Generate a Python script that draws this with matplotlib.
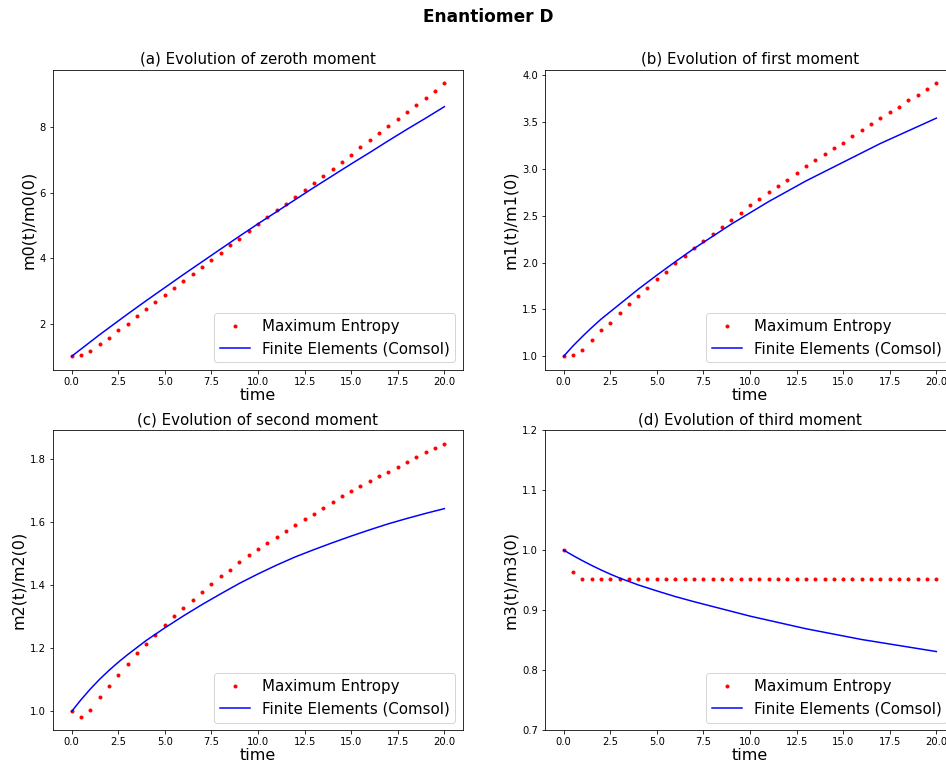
import matplotlib
matplotlib.use("Agg")
import matplotlib.pyplot as plt
import numpy as np

# temps des points "Maximum Entropy" (pas de 0.5) et de la courbe Comsol
t_me = np.arange(0, 20.5, 0.5)
t_fe = [0, 0.5, 1, 1.5, 2, 2.5, 3, 4, 5, 6, 7, 8, 9, 10,
        11, 12, 13, 14, 15, 16, 17, 18, 19, 20]

m0_me = [1.00, 1.05, 1.17, 1.37, 1.57, 1.79, 2.00, 2.22, 2.44, 2.65,
         2.87, 3.08, 3.31, 3.52, 3.73, 3.95, 4.17, 4.39, 4.60, 4.82,
         5.04, 5.26, 5.47, 5.65, 5.87, 6.08, 6.30, 6.52, 6.73, 6.95,
         7.16, 7.39, 7.60, 7.82, 8.03, 8.24, 8.47, 8.68, 8.90, 9.11, 9.34]
m0_fe = [1.00, 1.22, 1.44, 1.66, 1.87, 2.08, 2.29, 2.70, 3.10, 3.50, 3.89, 4.28, 4.67, 5.05,
         5.42, 5.79, 6.16, 6.52, 6.88, 7.23, 7.59, 7.94, 8.28, 8.63]

m1_me = [1.00, 1.01, 1.07, 1.17, 1.28, 1.36, 1.46, 1.56, 1.645, 1.73,
         1.82, 1.90, 1.99, 2.065, 2.15, 2.23, 2.30, 2.38, 2.45, 2.53,
         2.61, 2.68, 2.75, 2.82, 2.885, 2.95, 3.03, 3.09, 3.155, 3.22,
         3.28, 3.35, 3.415, 3.48, 3.54, 3.61, 3.66, 3.73, 3.79, 3.85, 3.91]
m1_fe = [1.00, 1.11, 1.21, 1.305, 1.395, 1.475, 1.555, 1.715, 1.865, 2.01, 2.15, 2.28, 2.41, 2.53,
         2.65, 2.76, 2.87, 2.97, 3.07, 3.17, 3.27, 3.36, 3.45, 3.54]

m2_me = [1.000, 0.984, 1.006, 1.045, 1.081, 1.116, 1.151, 1.184, 1.215, 1.244,
         1.274, 1.302, 1.329, 1.354, 1.380, 1.405, 1.428, 1.450, 1.473, 1.495,
         1.515, 1.534, 1.553, 1.573, 1.592, 1.611, 1.627, 1.646, 1.663, 1.682,
         1.698, 1.714, 1.730, 1.746, 1.760, 1.776, 1.792, 1.807, 1.821, 1.836, 1.849]
m2_fe = [1.000, 1.037, 1.071, 1.102, 1.130, 1.156, 1.180, 1.225, 1.265, 1.303, 1.339, 1.373,
         1.406, 1.436, 1.464, 1.490, 1.513, 1.535, 1.556, 1.576, 1.595, 1.612, 1.628, 1.643]

m3_me = [1.000, 0.963] + [0.952] * 39
m3_fe = [1.000, 0.991, 0.9825, 0.9745, 0.967, 0.960, 0.9535, 0.942, 0.932, 0.9225, 0.914,
         0.906, 0.898, 0.890, 0.883, 0.876, 0.869, 0.863, 0.857, 0.851, 0.846, 0.841,
         0.836, 0.831]

titles = ["(a) Evolution of zeroth moment", "(b) Evolution of first moment",
          "(c) Evolution of second moment", "(d) Evolution of third moment"]
ylabels = ["m0(t)/m0(0)", "m1(t)/m1(0)", "m2(t)/m2(0)", "m3(t)/m3(0)"]
me = [m0_me, m1_me, m2_me, m3_me]
fe = [m0_fe, m1_fe, m2_fe, m3_fe]

fig, axs = plt.subplots(2, 2, figsize=(946 / 72, 767 / 72), dpi=72)
fig.subplots_adjust(left=0.056, right=1.0095, bottom=0.048, top=0.909,
                    wspace=0.2, hspace=0.2)
fig.suptitle("Enantiomer D", fontsize=17, fontweight="bold", x=0.516, y=0.99)

for i, ax in enumerate(axs.flat):
    ax.plot(t_me, me[i], "r.", label="Maximum Entropy")
    ax.plot(t_fe, fe[i], "b-", label="Finite Elements (Comsol)")
    ax.set_title(titles[i], fontsize=15)
    ax.set_xlabel("time", fontsize=16, labelpad=1)
    ax.set_ylabel(ylabels[i], fontsize=16)
    ax.tick_params(labelsize=10)
    ax.legend(loc="lower right", fontsize=15)

axs[1, 1].set_ylim(0.7, 1.2)

plt.savefig("out.png", dpi=72)
